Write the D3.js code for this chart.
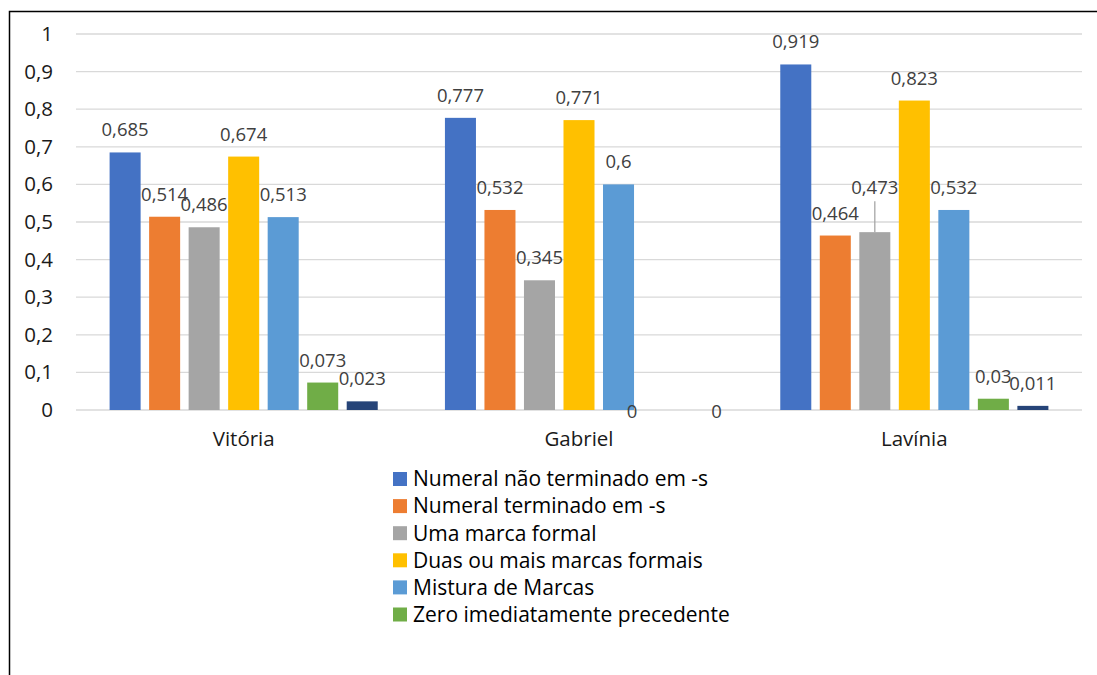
<!DOCTYPE html>
<html>
<head>
<meta charset="utf-8">
<script src="https://cdn.jsdelivr.net/npm/d3@7/dist/d3.min.js"></script>
<style>
  html, body { margin: 0; padding: 0; background: #fff; }
  svg { display: block; font-family: "Open Sans", sans-serif; }
</style>
</head>
<body>
<svg id="chart" width="1097" height="675"></svg>
<script>
// Categories (speakers) and series
const categories = ["Vitória", "Gabriel", "Lavínia"];
const seriesNames = [
  "Numeral não terminado em -s",
  "Numeral terminado em -s",
  "Uma marca formal",
  "Duas ou mais marcas formais",
  "Mistura de Marcas",
  "Zero imediatamente precedente",
  ""
];
const seriesColors = ["#4472C4", "#ED7D31", "#A5A5A5", "#FFC000", "#5B9BD5", "#70AD47", "#264478"];

// Proportions per category, one array per series
const valuesNaoS     = [0.685, 0.777, 0.919];
const valuesS        = [0.514, 0.532, 0.464];
const valuesUma      = [0.486, 0.345, 0.473];
const valuesDuas     = [0.674, 0.771, 0.823];
const valuesMistura  = [0.513, 0.6,   0.532];
const valuesZero     = [0.073, 0,     0.03];
const valuesOutro    = [0.023, 0,     0.011];
const seriesValues = [valuesNaoS, valuesS, valuesUma, valuesDuas, valuesMistura, valuesZero, valuesOutro];

const yTicks = [0, 0.1, 0.2, 0.3, 0.4, 0.5, 0.6, 0.7, 0.8, 0.9, 1];
const yTickLabels = ["0", "0,1", "0,2", "0,3", "0,4", "0,5", "0,6", "0,7", "0,8", "0,9", "1"];

const fmt = v => String(v).replace(".", ",");

const svg = d3.select("#chart");

// Outer frame (only the top and left edges fall inside the page)
svg.append("rect")
  .attr("x", 9.5).attr("y", 11.5)
  .attr("width", 2000).attr("height", 2000)
  .attr("fill", "none").attr("stroke", "#000").attr("stroke-width", 1.5);

const plot = { left: 76, right: 1082, top: 34, bottom: 410 };

const y = d3.scaleLinear().domain([0, 1]).range([plot.bottom, plot.top]);
const x0 = d3.scaleBand().domain(categories).range([plot.left, plot.right]);
const groupPad = 33.6;
const x1 = d3.scaleBand()
  .domain(d3.range(seriesNames.length))
  .range([groupPad, x0.bandwidth() - groupPad])
  .paddingInner(0.215);

// Gridlines
svg.append("g")
  .selectAll("line")
  .data(yTicks)
  .join("line")
  .attr("x1", plot.left).attr("x2", plot.right)
  .attr("y1", d => y(d)).attr("y2", d => y(d))
  .attr("stroke", "#D9D9D9").attr("stroke-width", 1.3);

// Y axis labels
const yAxis = d3.axisLeft(y).tickValues(yTicks)
  .tickFormat((d, i) => yTickLabels[i]).tickSize(0).tickPadding(0);
svg.append("g")
  .attr("transform", `translate(53,0)`)
  .call(yAxis)
  .call(g => g.select(".domain").remove())
  .call(g => g.selectAll("text")
    .attr("font-family", "Open Sans").attr("font-size", 20.5)
    .attr("fill", "#1a1a1a"));

// Category axis labels
const xAxis = d3.axisBottom(x0).tickSize(0).tickPadding(0);
svg.append("g")
  .attr("transform", `translate(0,${plot.bottom + 21})`)
  .call(xAxis)
  .call(g => g.select(".domain").remove())
  .call(g => g.selectAll("text")
    .attr("font-family", "Open Sans").attr("font-size", 20.5)
    .attr("fill", "#1a1a1a"));

// Flattened bar records
const bars = [];
categories.forEach((c, ci) => {
  seriesValues.forEach((vals, si) => {
    bars.push({ cat: c, ci, si, value: vals[ci] });
  });
});

const barX = d => x0(d.cat) + x1(d.si);

svg.append("g")
  .selectAll("rect")
  .data(bars)
  .join("rect")
  .attr("x", barX)
  .attr("y", d => y(d.value))
  .attr("width", x1.bandwidth())
  .attr("height", d => y(0) - y(d.value))
  .attr("fill", d => seriesColors[d.si]);

// Hand-placed label nudges (dx, dy) for crowded labels
const labelNudge = {
  "Lavínia|2": [0, -22],
  "Gabriel|5": [-26, 24],
  "Gabriel|6": [19, 24]
};

const labels = svg.append("g")
  .attr("font-family", "Open Sans").attr("font-size", 18.5)
  .attr("fill", "#404040").attr("text-anchor", "middle");

bars.forEach(d => {
  const n = labelNudge[d.cat + "|" + d.si] || [0, 0];
  const cx = barX(d) + x1.bandwidth() / 2;
  const ty = y(d.value) - 16 + n[1];
  labels.append("text")
    .attr("x", cx + n[0])
    .attr("y", ty)
    .text(fmt(d.value));
  if (d.cat === "Lavínia" && d.si === 2) {
    svg.append("line")
      .attr("x1", cx).attr("x2", cx)
      .attr("y1", ty + 7).attr("y2", y(d.value))
      .attr("stroke", "#A6A6A6").attr("stroke-width", 1.3);
  }
});

// Legend
const legendNames = seriesNames.filter(s => s !== "");
const legend = svg.append("g").attr("transform", "translate(393,479)");
const item = legend.selectAll("g")
  .data(legendNames)
  .join("g")
  .attr("transform", (d, i) => `translate(0,${i * 27.1})`);
item.append("rect")
  .attr("x", 0).attr("y", -7)
  .attr("width", 14).attr("height", 14)
  .attr("fill", (d, i) => seriesColors[i]);
item.append("text")
  .attr("x", 20).attr("y", 0).attr("dy", "0.35em")
  .attr("font-family", "Open Sans").attr("font-size", 21)
  .attr("fill", "#000")
  .text(d => d);
</script>
</body>
</html>
